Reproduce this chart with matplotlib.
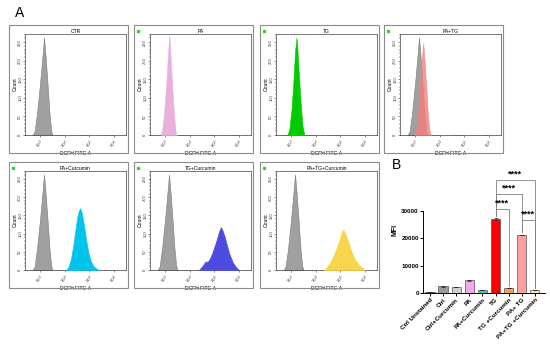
import numpy as np
import matplotlib
matplotlib.use('Agg')
from matplotlib import pyplot as plt
from matplotlib.patches import Rectangle

plt.rcParams['font.family'] = ['Liberation Sans', 'DejaVu Sans']

W, H = 550, 346

# ---- flow histograms (x = log10 fluorescence, y = count) ----
titles = ['CTR', 'PA', 'TG', 'PA+TG', 'PA+Curcumin', 'TG+Curcumin', 'PA+TG+Curcumin']

ctrl_x = [2.70, 2.78, 2.88, 3.00, 3.10, 3.16, 3.22, 3.30, 3.38, 3.45, 3.50]
ctrl_y = [0, 10, 60, 140, 215, 262, 215, 140, 60, 12, 0]

pa_x = [2.82, 2.90, 2.98, 3.06, 3.12, 3.17, 3.22, 3.29, 3.36, 3.42, 3.46]
pa_y = [0, 20, 75, 150, 220, 268, 215, 130, 55, 12, 0]

tg_x = [2.85, 2.93, 3.02, 3.10, 3.16, 3.20, 3.22, 3.25, 3.30, 3.38, 3.46, 3.54]
tg_y = [0, 15, 70, 150, 225, 250, 262, 240, 180, 95, 25, 0]

patg_x = [2.98, 3.06, 3.14, 3.22, 3.28, 3.33, 3.38, 3.45, 3.52, 3.58, 3.64]
patg_y = [0, 20, 75, 150, 210, 248, 205, 130, 55, 12, 0]

pacur_x = [4.05, 4.15, 4.25, 4.35, 4.45, 4.52, 4.58, 4.62, 4.68, 4.75, 4.85, 4.95, 5.05, 5.15, 5.25, 5.39]
pacur_y = [0, 8, 30, 70, 120, 150, 165, 170, 160, 135, 90, 50, 25, 12, 5, 0]

tgcur_x = [4.37, 4.50, 4.60, 4.66, 4.72, 4.80, 4.90, 5.00, 5.10, 5.18, 5.26, 5.32, 5.40, 5.50, 5.60, 5.75, 5.90, 6.00]
tgcur_y = [0, 10, 20, 24, 22, 30, 45, 65, 85, 105, 118, 110, 95, 70, 45, 20, 6, 0]

patgcur_x = [4.33, 4.45, 4.55, 4.65, 4.75, 4.85, 4.95, 5.02, 5.08, 5.12, 5.20, 5.30, 5.40, 5.50, 5.60, 5.75, 5.90, 6.00]
patgcur_y = [0, 8, 18, 30, 45, 62, 82, 98, 108, 110, 100, 80, 60, 42, 28, 14, 5, 0]

samples = [None, (pa_x, pa_y), (tg_x, tg_y), (patg_x, patg_y),
           (pacur_x, pacur_y), (tgcur_x, tgcur_y), (patgcur_x, patgcur_y)]
fills = [None, '#eab0dc', '#00cc00', '#f47f7c', '#00c4ec', '#4c4ce0', '#f8d64c']
show_ctrl = [True, False, False, True, True, True, True]

# ---- MFI bars ----
groups = ['Ctrl Unstained', 'Ctrl', 'Ctrl+Curcumin', 'PA', 'PA+Curcumin', 'TG',
          'TG +Curcumin', 'PA+ TG', 'PA+TG +Curcumin']
mfi = [300, 2500, 2200, 4700, 1100, 27000, 1900, 21200, 1100]
mfi_err = [80, 150, 100, 150, 80, 250, 100, 150, 60]
bar_colors = ['#333333', '#9a9a9a', '#cfcfcf', '#f4a8ec', '#3cc8c8', '#ff0000',
              '#f5a04a', '#ffa0a0', '#ffe8b8']
# (left, right, height of bracket, left leg end, right leg end)
pairs = [(5, 6, 30700, 28000, 2700), (7, 8, 26700, 22200, 1900),
         (5, 7, 36200, 28000, 22200), (5, 8, 41300, 28000, 1900)]

fig = plt.figure(figsize=(W / 100, H / 100), dpi=100)


def px_axes(x0, y0, x1, y1):
    return fig.add_axes([x0 / W, 1 - y1 / H, (x1 - x0) / W, (y1 - y0) / H])


def frame(x0, y0, x1, y1):
    fig.add_artist(Rectangle((x0 / W, 1 - y1 / H), (x1 - x0) / W, (y1 - y0) / H,
                             transform=fig.transFigure, fill=False,
                             edgecolor='#8c8c8c', linewidth=0.8))


fig.text(15 / W, 1 - 13 / H, 'A', fontsize=10, va='center')
fig.text(392 / W, 1 - 165 / H, 'B', fontsize=10, va='center')

cols = [9, 134, 260, 384]
rows = [(25, 153), (162, 288)]
for i, t in enumerate(titles):
    fx0 = cols[i % 4]
    fy0, fy1 = rows[i // 4]
    fx1 = fx0 + 119
    frame(fx0, fy0, fx1, fy1)
    if i > 0:
        fig.add_artist(Rectangle(((fx0 + 3) / W, 1 - (fy0 + 7) / H), 2 / W, 2 / H,
                                 transform=fig.transFigure, color='#22dd22'))
    ax = px_axes(fx0 + 16, fy0 + 9, fx1 - 2, fy1 - 18)
    if show_ctrl[i]:
        ax.fill_between(ctrl_x, ctrl_y, color='#a0a0a0', edgecolor='#7a7a7a', lw=0.4, zorder=2)
    if samples[i] is not None:
        sx, sy = samples[i]
        alpha = 0.8 if i == 3 else 1.0
        ax.fill_between(sx, sy, color=fills[i], alpha=alpha, lw=0.4, zorder=3)
    ax.set_xlim(2.39, 6.48)
    ax.set_ylim(0, 272)
    ax.set_xticks([3, 4, 5, 6])
    ax.set_xticklabels([r'$10^3$', r'$10^4$', r'$10^5$', r'$10^6$'], fontsize=3, rotation=45)
    minors = [d + np.log10(k) for d in range(2, 7) for k in range(2, 10)]
    ax.set_xticks([m for m in minors if 2.39 < m < 6.48], minor=True)
    ax.set_yticks([0, 50, 100, 150, 200, 250])
    ax.set_yticklabels(['0', '50', '100', '150', '200', '250'], fontsize=3, rotation=90, va='center')
    ax.set_yticks(range(10, 272, 10), minor=True)
    ax.tick_params(length=1.5, width=0.4, pad=0.5, colors='#333333')
    ax.tick_params(which='minor', length=0.9, width=0.3)
    for s in ax.spines.values():
        s.set_linewidth(0.5)
        s.set_color('#444444')
    ax.set_title(t, fontsize=3.6, pad=1)
    ax.set_xlabel('DCFH FITC-A', fontsize=3.6, labelpad=0)
    ax.set_ylabel('Count', fontsize=3.6, labelpad=0.5)

# bar chart
bx = px_axes(423, 167, 545, 293)
xs = np.arange(len(groups))
bx.bar(xs, mfi, width=0.7, color=bar_colors, edgecolor='#555555', linewidth=0.5, zorder=2)
bx.errorbar(xs, mfi, yerr=mfi_err, fmt='none', ecolor='#222222', elinewidth=0.5,
            capsize=1.2, capthick=0.5, zorder=3)
for a, b, h, la, lb in pairs:
    bx.plot([a, a, b, b], [la, h, h, lb], color='#808080', lw=0.6, zorder=1)
    bx.text((a + b) / 2, h + 400, '****', ha='center', va='bottom', fontsize=6.5, fontweight='bold')
bx.set_xlim(-0.53, 8.77)
bx.set_ylim(0, 46000)
bx.set_yticks([0, 10000, 20000, 30000])
bx.set_yticklabels(['0', '10000', '20000', '30000'], fontsize=4.5, fontweight='bold')
bx.set_xticks(xs)
bx.set_xticklabels(groups, rotation=45, ha='right', rotation_mode='anchor',
                   fontsize=4.5, fontweight='bold')
bx.spines['top'].set_visible(False)
bx.spines['right'].set_visible(False)
bx.spines['left'].set_bounds(0, 30000)
for s in ['left', 'bottom']:
    bx.spines[s].set_linewidth(0.7)
bx.tick_params(length=2, width=0.7, pad=1)
bx.set_ylabel('MFI', fontsize=5, fontweight='bold', labelpad=2)
bx.patch.set_alpha(0)

fig.savefig('out.png', dpi=100)
